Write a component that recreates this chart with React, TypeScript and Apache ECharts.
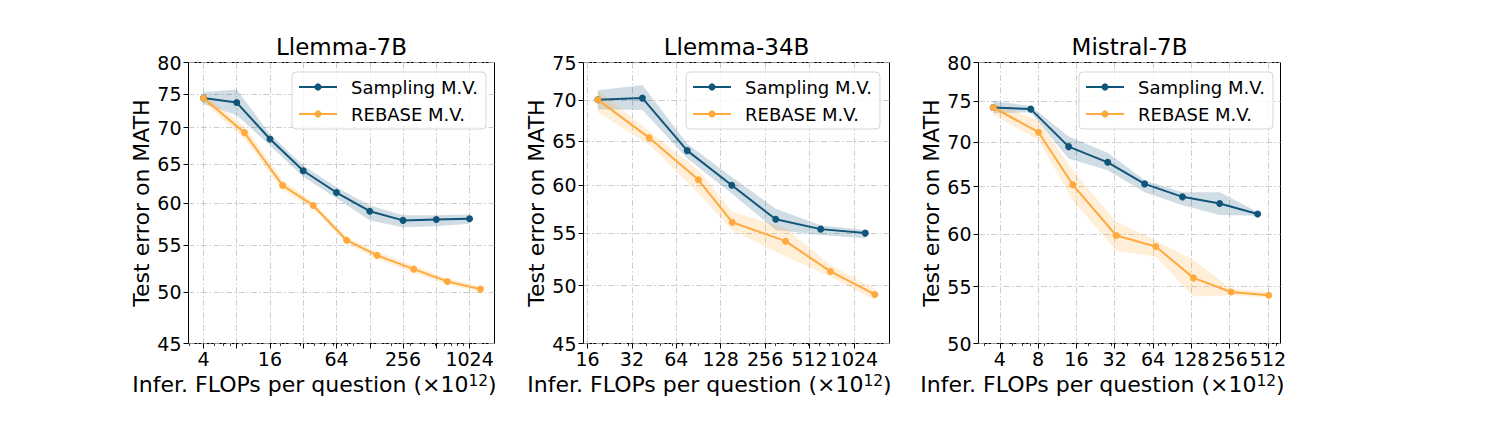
import React, { useEffect, useRef } from "react";
import * as echarts from "echarts";

const FONT = "DejaVu Sans";
const SAMPLING_COLOR = "#12557a";
const REBASE_COLOR = "#ffaa3e";
const SAMPLING_BAND = "rgba(18, 85, 122, 0.2)";
const REBASE_BAND = "rgba(255, 170, 62, 0.2)";

const titles = ["Llemma-7B", "Llemma-34B", "Mistral-7B"];
const seriesNames = ["Sampling M.V.", "REBASE M.V."];

// Llemma-7B
const l7SamplingX = [4, 8, 16, 32, 64, 128, 256, 512, 1024];
const l7SamplingY = [74.4, 73.7, 68.4, 64.1, 61.3, 59.0, 57.9, 58.0, 58.1];
const l7SamplingLo = [73.5, 71.8, 67.5, 63.3, 60.6, 57.9, 57.1, 57.2, 57.5];
const l7SamplingHi = [75.3, 75.7, 69.1, 64.8, 62.0, 59.7, 58.5, 58.5, 58.6];
const l7RebaseX = [4, 9.4, 20.8, 39.4, 79, 149, 320, 644, 1287];
const l7RebaseY = [74.4, 69.3, 62.2, 59.7, 55.6, 53.9, 52.4, 51.1, 50.3];
const l7RebaseLo = [73.8, 68.4, 61.6, 59.3, 55.2, 53.5, 52.0, 50.8, 50.0];
const l7RebaseHi = [74.9, 70.2, 62.9, 60.1, 56.0, 54.3, 52.8, 51.4, 50.6];

// Llemma-34B
const l34SamplingX = [18.8, 37.7, 75.9, 152, 302, 609, 1222];
const l34SamplingY = [70.1, 70.3, 63.9, 60.0, 56.4, 55.4, 55.0];
const l34SamplingLo = [68.9, 68.8, 63.0, 59.1, 55.3, 54.8, 54.5];
const l34SamplingHi = [71.3, 72.0, 64.7, 60.9, 57.5, 55.8, 55.3];
const l34RebaseX = [18.8, 41.9, 90.3, 153, 352, 709, 1418];
const l34RebaseY = [70.1, 65.4, 60.6, 56.1, 54.2, 51.3, 49.2];
const l34RebaseLo = [68.5, 64.6, 59.1, 55.3, 52.7, 50.8, 48.7];
const l34RebaseHi = [71.3, 66.2, 61.7, 57.2, 55.5, 51.9, 49.7];

// Mistral-7B
const m7SamplingX = [3.55, 7.0, 13.9, 28.2, 55, 109, 214, 425];
const m7SamplingY = [74.2, 74.0, 69.5, 67.7, 65.3, 63.9, 63.2, 62.1];
const m7SamplingLo = [73.5, 73.6, 68.1, 66.8, 64.4, 63.0, 62.0, 61.9];
const m7SamplingHi = [75.0, 74.4, 70.7, 68.8, 65.7, 64.4, 64.4, 62.3];
const m7RebaseX = [3.55, 8.06, 15.0, 32.9, 67.2, 133, 263, 519];
const m7RebaseY = [74.2, 71.2, 65.2, 59.9, 58.8, 55.8, 54.5, 54.2];
const m7RebaseLo = [73.3, 70.3, 63.5, 58.4, 57.8, 54.1, 54.2, 54.0];
const m7RebaseHi = [74.8, 72.6, 66.8, 61.3, 59.4, 57.5, 54.8, 54.5];

// Tick values
const l7XTicks = [4, 8, 16, 32, 64, 128, 256, 512, 1024];
const l7XLabels = [4, 16, 64, 256, 1024];
const l34XTicks = [16, 32, 64, 128, 256, 512, 1024];
const l34XLabels = [16, 32, 64, 128, 256, 512, 1024];
const m7XTicks = [4, 8, 16, 32, 64, 128, 256, 512];
const m7XLabels = [4, 8, 16, 32, 64, 128, 256, 512];
const l7YTicks = [45, 50, 55, 60, 65, 70, 75, 80];
const l34YTicks = [45, 50, 55, 60, 65, 70, 75];
const m7YTicks = [50, 55, 60, 65, 70, 75, 80];
const minorXTicks = [2, 3, 4, 5, 6, 7, 8, 9, 20, 30, 40, 50, 60, 70, 80, 90, 200, 300, 400, 500, 600, 700, 800, 900, 2000];

const panels = [
  {
    title: titles[0], left: 188.5, width: 306, xMin: 2.93, xMax: 1722, yMin: 45, yMax: 80,
    xTicks: l7XTicks, xLabels: l7XLabels, yTicks: l7YTicks, legendLeft: 292,
    sx: l7SamplingX, sy: l7SamplingY, slo: l7SamplingLo, shi: l7SamplingHi,
    rx: l7RebaseX, ry: l7RebaseY, rlo: l7RebaseLo, rhi: l7RebaseHi,
  },
  {
    title: titles[1], left: 583.5, width: 306, xMin: 15.03, xMax: 1783, yMin: 45, yMax: 75,
    xTicks: l34XTicks, xLabels: l34XLabels, yTicks: l34YTicks, legendLeft: 686,
    sx: l34SamplingX, sy: l34SamplingY, slo: l34SamplingLo, shi: l34SamplingHi,
    rx: l34RebaseX, ry: l34RebaseY, rlo: l34RebaseLo, rhi: l34RebaseHi,
  },
  {
    title: titles[2], left: 978.5, width: 302, xMin: 2.72, xMax: 643, yMin: 50, yMax: 80,
    xTicks: m7XTicks, xLabels: m7XLabels, yTicks: m7YTicks, legendLeft: 1079,
    sx: m7SamplingX, sy: m7SamplingY, slo: m7SamplingLo, shi: m7SamplingHi,
    rx: m7RebaseX, ry: m7RebaseY, rlo: m7RebaseLo, rhi: m7RebaseHi,
  },
];

const GRID_TOP = 62.5;
const GRID_HEIGHT = 281;

const splitLineStyle = { color: "#c0c0c0", width: 0.8, type: [6, 2.5, 1.5, 2.5] };

function bandSeries(xs: number[], lo: number[], hi: number[], color: string, idx: number, name: string) {
  return {
    type: "custom",
    name,
    xAxisIndex: idx,
    yAxisIndex: idx,
    silent: true,
    z: 1,
    data: xs.map((x, i) => [x, lo[i], hi[i]]),
    encode: { x: 0, y: [1, 2] },
    renderItem: (params: any, api: any) => {
      if (params.dataIndex !== 0) return null;
      const upper = xs.map((x, i) => api.coord([x, hi[i]]));
      const lower = xs.map((x, i) => api.coord([x, lo[i]])).reverse();
      return {
        type: "polygon",
        shape: { points: upper.concat(lower) },
        style: { fill: color, stroke: "none" },
      };
    },
  };
}

function lineSeries(xs: number[], ys: number[], color: string, idx: number, name: string, z: number) {
  return {
    type: "line",
    name,
    xAxisIndex: idx,
    yAxisIndex: idx,
    data: xs.map((x, i) => [x, ys[i]]),
    symbol: "circle",
    symbolSize: 7,
    showSymbol: true,
    lineStyle: { color, width: 2 },
    itemStyle: { color },
    z,
  };
}

function buildOption() {
  const grid = panels.map((p) => ({
    left: p.left,
    top: GRID_TOP,
    width: p.width,
    height: GRID_HEIGHT,
    show: true,
    borderColor: "#000",
    borderWidth: 1,
    backgroundColor: "transparent",
    containLabel: false,
    outerBoundsMode: "none",
  }));

  const mainX = panels.map((p, i) => ({
    type: "log",
    logBase: 2,
    gridIndex: i,
    position: "bottom",
    min: p.xMin,
    max: p.xMax,
    axisLine: { show: false },
    axisTick: { show: true, customValues: p.xTicks, length: 5, lineStyle: { color: "#000", width: 1 } },
    axisLabel: {
      show: true,
      customValues: p.xLabels,
      formatter: (v: number) => String(Math.round(v)),
      fontSize: 19,
      fontFamily: FONT,
      color: "#000",
      margin: 6,
    },
    splitLine: { show: true, lineStyle: splitLineStyle },
    name: "Infer. FLOPs per question (×10{sup|12})",
    nameLocation: "middle",
    nameGap: 27,
    nameTextStyle: {
      fontSize: 22,
      fontFamily: FONT,
      color: "#000",
      padding: [0, 54, 0, 0],
      rich: {
        sup: { fontSize: 15.5, fontFamily: FONT, color: "#000", verticalAlign: "top", padding: [0, 0, 7, 0] },
      },
    },
  }));

  const minorX = panels.map((p, i) => ({
    type: "log",
    logBase: 2,
    gridIndex: i,
    position: "bottom",
    min: p.xMin,
    max: p.xMax,
    axisLine: { show: false },
    axisTick: { show: true, customValues: minorXTicks, length: 2.5, lineStyle: { color: "#000", width: 0.8 } },
    axisLabel: { show: false },
    splitLine: { show: false },
  }));

  const yAxis = panels.map((p, i) => ({
    type: "log",
    logBase: 10,
    gridIndex: i,
    min: p.yMin,
    max: p.yMax,
    axisLine: { show: false },
    axisTick: { show: true, customValues: p.yTicks, length: 5, lineStyle: { color: "#000", width: 1 } },
    axisLabel: {
      show: true,
      customValues: p.yTicks,
      formatter: (v: number) => String(Math.round(v)),
      fontSize: 19,
      fontFamily: FONT,
      color: "#000",
      margin: 7,
    },
    splitLine: { show: true, lineStyle: splitLineStyle },
    name: "Test error on MATH",
    nameLocation: "middle",
    nameGap: 36,
    nameTextStyle: { fontSize: 22, fontFamily: FONT, color: "#000" },
  }));

  const series: any[] = [];
  panels.forEach((p, i) => {
    series.push(bandSeries(p.sx, p.slo, p.shi, SAMPLING_BAND, i, seriesNames[0] + " band"));
    series.push(bandSeries(p.rx, p.rlo, p.rhi, REBASE_BAND, i, seriesNames[1] + " band"));
    series.push(lineSeries(p.sx, p.sy, SAMPLING_COLOR, i, seriesNames[0], 3));
    series.push(lineSeries(p.rx, p.ry, REBASE_COLOR, i, seriesNames[1], 4));
  });

  return {
    animation: false,
    backgroundColor: "#fff",
    textStyle: { fontFamily: FONT },
    title: panels.map((p) => ({
      text: p.title,
      left: p.left + p.width / 2,
      top: 35,
      textAlign: "center",
      padding: 0,
      textStyle: { fontSize: 23, fontWeight: "normal", color: "#000", fontFamily: FONT },
    })),
    legend: panels.map((p) => ({
      data: seriesNames,
      orient: "vertical",
      left: p.legendLeft,
      top: 72,
      itemWidth: 38,
      itemHeight: 9,
      itemGap: 7,
      padding: [5, 8, 5, 6],
      borderColor: "#d6d6d6",
      borderWidth: 1,
      borderRadius: 4,
      backgroundColor: "rgba(255,255,255,0.8)",
      selectedMode: false,
      textStyle: { fontSize: 18, fontFamily: FONT, color: "#000", lineHeight: 20, padding: [0, 0, 0, 9] },
      z: 10,
    })),
    grid,
    xAxis: [...mainX, ...minorX],
    yAxis,
    series,
  };
}

export default function App() {
  const ref = useRef<HTMLDivElement>(null);
  useEffect(() => {
    const chart = echarts.init(ref.current as HTMLDivElement, null, { renderer: "svg", width: 1485, height: 441 });
    chart.setOption(buildOption() as any);
    return () => chart.dispose();
  }, []);
  return (
    <div
      ref={ref}
      style={{ position: "absolute", left: 0, top: 0, width: 1485, height: 441, background: "#fff" }}
    />
  );
}
